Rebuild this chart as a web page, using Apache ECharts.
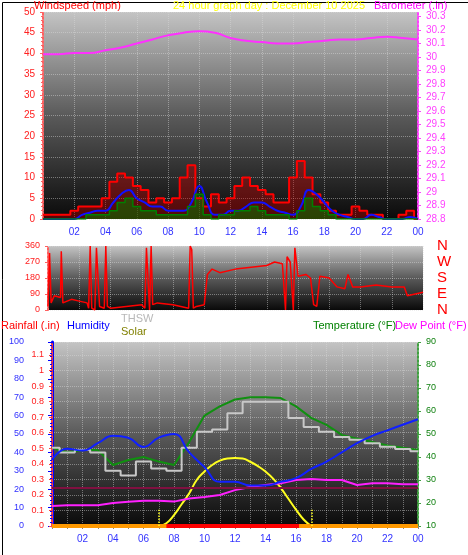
<!DOCTYPE html>
<html><head><meta charset="utf-8">
<script src="https://cdn.jsdelivr.net/npm/echarts@6/dist/echarts.min.js"></script>
<style>html,body{margin:0;padding:0;background:#fff}#c{width:468px;height:555px}</style>
</head><body><div id="c"></div>
<script>
const hourTicks = ['00','02','04','06','08','10','12','14','16','18','20','22','00'];
const baroHours = [0,1,2,3,4,5,6,7,8,9,10,11,12,13,14,15,16,17,18,19,20,21,22,23,24];
const baro = [30.02,30.02,30.03,30.03,30.05,30.07,30.10,30.13,30.16,30.18,30.19,30.18,30.14,30.12,30.11,30.10,30.10,30.11,30.12,30.13,30.13,30.14,30.15,30.14,30.13];
const windHours = [0,0.5,1,1.5,2,2.5,3,3.5,4,4.5,5,5.5,6,6.5,7,7.5,8,8.5,9,9.5,10,10.5,11,11.5,12,12.5,13,13.5,14,14.5,15,15.5,16,16.5,17,17.5,18,18.5,19,19.5,20,20.5,21,21.5,22,22.5,23,23.5,24];
const gust = [1,1,1,1,2,3,3,3,5,9,11,10,8,7,4,5,4,5,10,13,5,3,6,4,5,8,10,8,7,6,4,4,10,14,10,6,4,2,1,1,3,2,1,1,0,0,1,2,0];
const windAvg = [0,0,0,0,0,1,1.5,2,2,4,6,7,5,4,3,3,2,2,2,4,8,4,1,1,2,2,3,4,4,3,2,1.5,1,3,7,6,4,2,1,0.5,0,0,1,0.5,0,0,0,0.5,0];
const windLow = [0,0,0,0,0,0,1,1,1,2,4,5,3,2,2,1,1,1,1,3,6,1,0,1,1,2,2,3,2,1,1,1,0,2,5,3,2,1,0,0,0,0,0,0,0,0,0,0,0];
const dirHours = [0,0.1,0.2,0.4,0.8,0.85,0.95,1.5,2,2.5,2.6,2.7,2.8,3,3.1,3.2,3.3,3.6,3.7,3.8,4,5,6,6.2,6.3,6.4,6.5,6.6,6.7,6.8,7,8,9,9.1,9.2,9.3,9.5,10,10.2,10.5,11,12,13,14,14.5,15,15.2,15.3,15.5,15.7,15.8,16,16.5,16.8,17,17.2,17.4,17.5,18,18.5,19,19.2,19.5,20,21,22,22.8,23,23.5,24];
const dirDeg = [20,320,40,80,70,330,40,60,50,40,10,360,10,0,350,360,20,10,360,20,10,20,30,10,350,360,0,360,30,20,40,30,10,360,340,10,20,30,200,230,210,230,240,250,270,260,0,300,270,0,350,190,200,180,30,20,190,190,180,130,120,200,130,130,140,130,130,80,90,100];
const dirLabels = ['N','E','S','W','N'];
const hrs = [0,1,2,3,4,5,6,7,8,9,10,11,12,13,14,15,16,17,18,19,20,21,22,23,24];
const humidity = [36,42,41,45,49,48,43,48,50,40,32,24,24,22,22,24,26,31,35,40,45,49,52,55,58];
const temperature = [44,42,43,43,36.5,38.7,40,38,36.5,46.5,58,62,65,66,66,65.6,62,57,54,49.6,48,46.5,45,44,43];
const thsw = [44,42,43,42,34,32,38,35,34,44,51,52,59,64,64,64,57,53,51,48.7,47.5,46,44.5,43.5,42.5];
const dewPoint = [18.7,19,19,19,20,20.5,21,21,20.6,22,22.6,23.5,25.6,27,27.8,28.6,30,30.4,30,30,27.8,28.6,28.6,28.2,28.2];
const solarHours = [7,7.5,8,8.5,9,9.5,10,10.5,11,11.5,12,12.5,13,13.5,14,14.5,15,15.5,16,16.5,17];
const solar = [0,5,20,40,60,85,100,112,120,124,125,124,118,110,100,87,70,50,30,12,0];
const rainHours = [0,24];
const rain = [0,0];

const zip = (a,b)=>a.map((x,i)=>[x,b[i]]);
const bg = {type:'linear',x:0,y:0,x2:0,y2:1,colorStops:[{offset:0,color:'#c4c4c4'},{offset:0.5,color:'#5a5a5a'},{offset:1,color:'#0a0a0a'}]};
const F = 'Liberation Sans, Arial, sans-serif';
const gridLine = {show:true,lineStyle:{color:'rgba(220,220,220,0.45)',type:'dotted',width:1}};
const hourFmt = v => hourTicks[v/2] !== undefined ? hourTicks[v/2] : '';
const c = echarts.init(document.getElementById('c'));
c.setOption({
  backgroundColor:'#fff', animation:false,
  textStyle:{fontFamily:F},
  grid:[
    {left:43,right:50,top:12,height:207,show:true,backgroundColor:bg,borderWidth:0},
    {left:48,right:45,top:246,height:64,show:true,backgroundColor:bg,borderWidth:0},
    {left:52,right:50,top:342,height:184,show:true,backgroundColor:bg,borderWidth:0}
  ],
  xAxis:[
    {gridIndex:0,type:'value',min:0,max:24,interval:2,axisLine:{show:false},axisTick:{show:false},
     axisLabel:{formatter:v=>v===0?'':hourFmt(v),color:'#3333ff',fontSize:10,margin:8},splitLine:gridLine},
    {gridIndex:1,type:'value',min:0,max:24,interval:2,axisLine:{show:false},axisTick:{show:false},axisLabel:{show:false},splitLine:gridLine},
    {gridIndex:2,type:'value',min:0,max:24,interval:1,axisLine:{show:true,lineStyle:{color:'#888'}},axisTick:{show:true,length:3,lineStyle:{color:'#888'}},
     axisLabel:{formatter:v=>(v%2||v===0)?'':hourFmt(v),color:'#3333ff',fontSize:10,margin:8},splitLine:gridLine}
  ],
  yAxis:[
    {gridIndex:0,type:'value',position:'left',min:0,max:50,interval:5,axisLine:{show:true,lineStyle:{color:'#ff6060',type:'dotted',width:2}},
     axisTick:{show:true,length:3,lineStyle:{color:'#ff6060'}},minorTick:{show:true,splitNumber:5,length:2,lineStyle:{color:'#ff6060'}},
     axisLabel:{color:'#ff2020',fontSize:10},splitLine:gridLine},
    {gridIndex:0,type:'value',position:'right',min:28.8,max:30.333,interval:0.1,axisLine:{show:true,lineStyle:{color:'#ff40ff',type:'dotted',width:2}},
     axisTick:{show:true,length:3,lineStyle:{color:'#ff40ff'}},axisLabel:{color:'#ff40ff',fontSize:10,showMaxLabel:false,formatter:v=>String(+v.toFixed(1))},splitLine:{show:false}},
    {gridIndex:1,type:'value',position:'left',min:0,max:360,interval:90,axisLine:{show:true,lineStyle:{color:'#ff6060',type:'dotted',width:2}},
     axisTick:{show:true,length:3,lineStyle:{color:'#ff6060'}},axisLabel:{color:'#ff2020',fontSize:9},splitLine:gridLine},
    {gridIndex:1,type:'value',position:'right',min:0,max:360,interval:90,axisLine:{show:false},axisTick:{show:false},
     axisLabel:{color:'#ff0000',fontSize:15,margin:14,formatter:v=>dirLabels[v/90]},splitLine:{show:false}},
    {gridIndex:2,type:'value',position:'left',min:0,max:100,interval:10,offset:22,axisLine:{show:true,lineStyle:{color:'#0000ff',width:3}},
     axisTick:{show:true,length:4,lineStyle:{color:'#0000ff'}},minorTick:{show:true,splitNumber:5,length:2,lineStyle:{color:'#0000ff'}},
     axisLabel:{color:'#3030ff',fontSize:9,margin:6},splitLine:{show:false}},
    {gridIndex:2,type:'value',position:'left',offset:0,min:0,max:1.183,interval:0.1,axisLine:{show:true,lineStyle:{color:'#ff4040',type:'dotted',width:2}},
     axisTick:{show:true,length:3,lineStyle:{color:'#ff4040'}},axisLabel:{color:'#ff2020',fontSize:9,showMaxLabel:false,formatter:v=>String(+v.toFixed(1))},splitLine:gridLine},
    {gridIndex:2,type:'value',position:'right',min:10,max:90,interval:10,axisLine:{show:true,lineStyle:{color:'#40a040',type:'dotted',width:2}},
     axisTick:{show:true,length:3,lineStyle:{color:'#40a040'}},axisLabel:{color:'#108010',fontSize:9},splitLine:{show:false}},
    {gridIndex:2,type:'value',position:'right',show:false,min:0,max:338}
  ],
  series:[
    {type:'line',xAxisIndex:0,yAxisIndex:1,data:zip(baroHours,baro),smooth:true,symbol:'none',lineStyle:{color:'#ff30ff',width:2}},
    {type:'line',xAxisIndex:0,yAxisIndex:0,data:zip(windHours,gust),step:'middle',symbol:'none',lineStyle:{color:'#ff0000',width:2},areaStyle:{color:'rgba(200,0,0,0.55)'}},
    {type:'line',xAxisIndex:0,yAxisIndex:0,data:zip(windHours,windAvg),smooth:true,symbol:'none',lineStyle:{color:'#1010ff',width:2}},
    {type:'line',xAxisIndex:0,yAxisIndex:0,data:zip(windHours,windLow),step:'middle',symbol:'none',lineStyle:{color:'#008000',width:1.5},areaStyle:{color:'rgba(0,128,0,0.7)'}},
    {type:'line',xAxisIndex:1,yAxisIndex:2,data:zip(dirHours,dirDeg),symbol:'none',lineStyle:{color:'#ff0000',width:1.5}},
    {type:'line',xAxisIndex:2,yAxisIndex:7,data:zip(solarHours,solar),smooth:true,symbol:'none',lineStyle:{color:'#ffff20',width:2},
     markLine:{symbol:'none',silent:true,label:{show:false},lineStyle:{color:'#ffff20',type:'dotted',width:1.5},data:[[{coord:[7,0]},{coord:[7,30]}],[{coord:[17,0]},{coord:[17,30]}]]}},
    {type:'line',xAxisIndex:2,yAxisIndex:6,data:zip(hrs,dewPoint),symbol:'none',lineStyle:{color:'#ff20ff',width:2},
     markLine:{symbol:'none',silent:true,label:{show:false},lineStyle:{color:'#801040',type:'solid',width:2},data:[{yAxis:26.5}]}},
    {type:'line',xAxisIndex:2,yAxisIndex:6,data:zip(hrs,temperature),symbol:'none',lineStyle:{color:'#109010',width:2}},
    {type:'line',xAxisIndex:2,yAxisIndex:6,data:zip(hrs,thsw),step:'middle',symbol:'none',lineStyle:{color:'#c8c8c8',width:2}},
    {type:'line',xAxisIndex:2,yAxisIndex:4,data:zip(hrs,humidity),smooth:true,symbol:'none',lineStyle:{color:'#1020ff',width:2}},
    {type:'line',xAxisIndex:2,yAxisIndex:5,data:zip(rainHours,rain),symbol:'none',lineStyle:{color:'#ff9900',width:4},
     markLine:{symbol:'none',silent:true,label:{show:false},lineStyle:{color:'#ff0000',type:'solid',width:4},data:[[{coord:[7.5,0]},{coord:[16.2,0]}]]}}
  ],
  graphic:[
    {type:'rect',left:0,top:0,shape:{width:467,height:554},style:{fill:null,stroke:'#000',lineWidth:1},silent:true},
    {type:'text',left:34,top:0,style:{text:'Windspeed (mph)',fill:'#ff0000',font:'11px '+F}},
    {type:'text',left:173,top:0,style:{text:'24 hour graph day : December 10 2025',fill:'#ffff00',font:'11px '+F}},
    {type:'text',left:374,top:0,style:{text:'Barometer (.in)',fill:'#ff00ff',font:'11px '+F}},
    {type:'text',left:1,top:320,style:{text:'Rainfall (.in)',fill:'#ff0000',font:'11px '+F}},
    {type:'text',left:67,top:320,style:{text:'Humidity',fill:'#0000ff',font:'11px '+F}},
    {type:'text',left:121,top:313,style:{text:'THSW',fill:'#b8b8b8',font:'11px '+F}},
    {type:'text',left:121,top:326,style:{text:'Solar',fill:'#808000',font:'11px '+F}},
    {type:'text',left:313,top:320,style:{text:'Temperature (°F)',fill:'#008000',font:'11px '+F}},
    {type:'text',left:395,top:320,style:{text:'Dew Point (°F)',fill:'#ff00ff',font:'11px '+F}}
  ]
});
</script></body></html>
